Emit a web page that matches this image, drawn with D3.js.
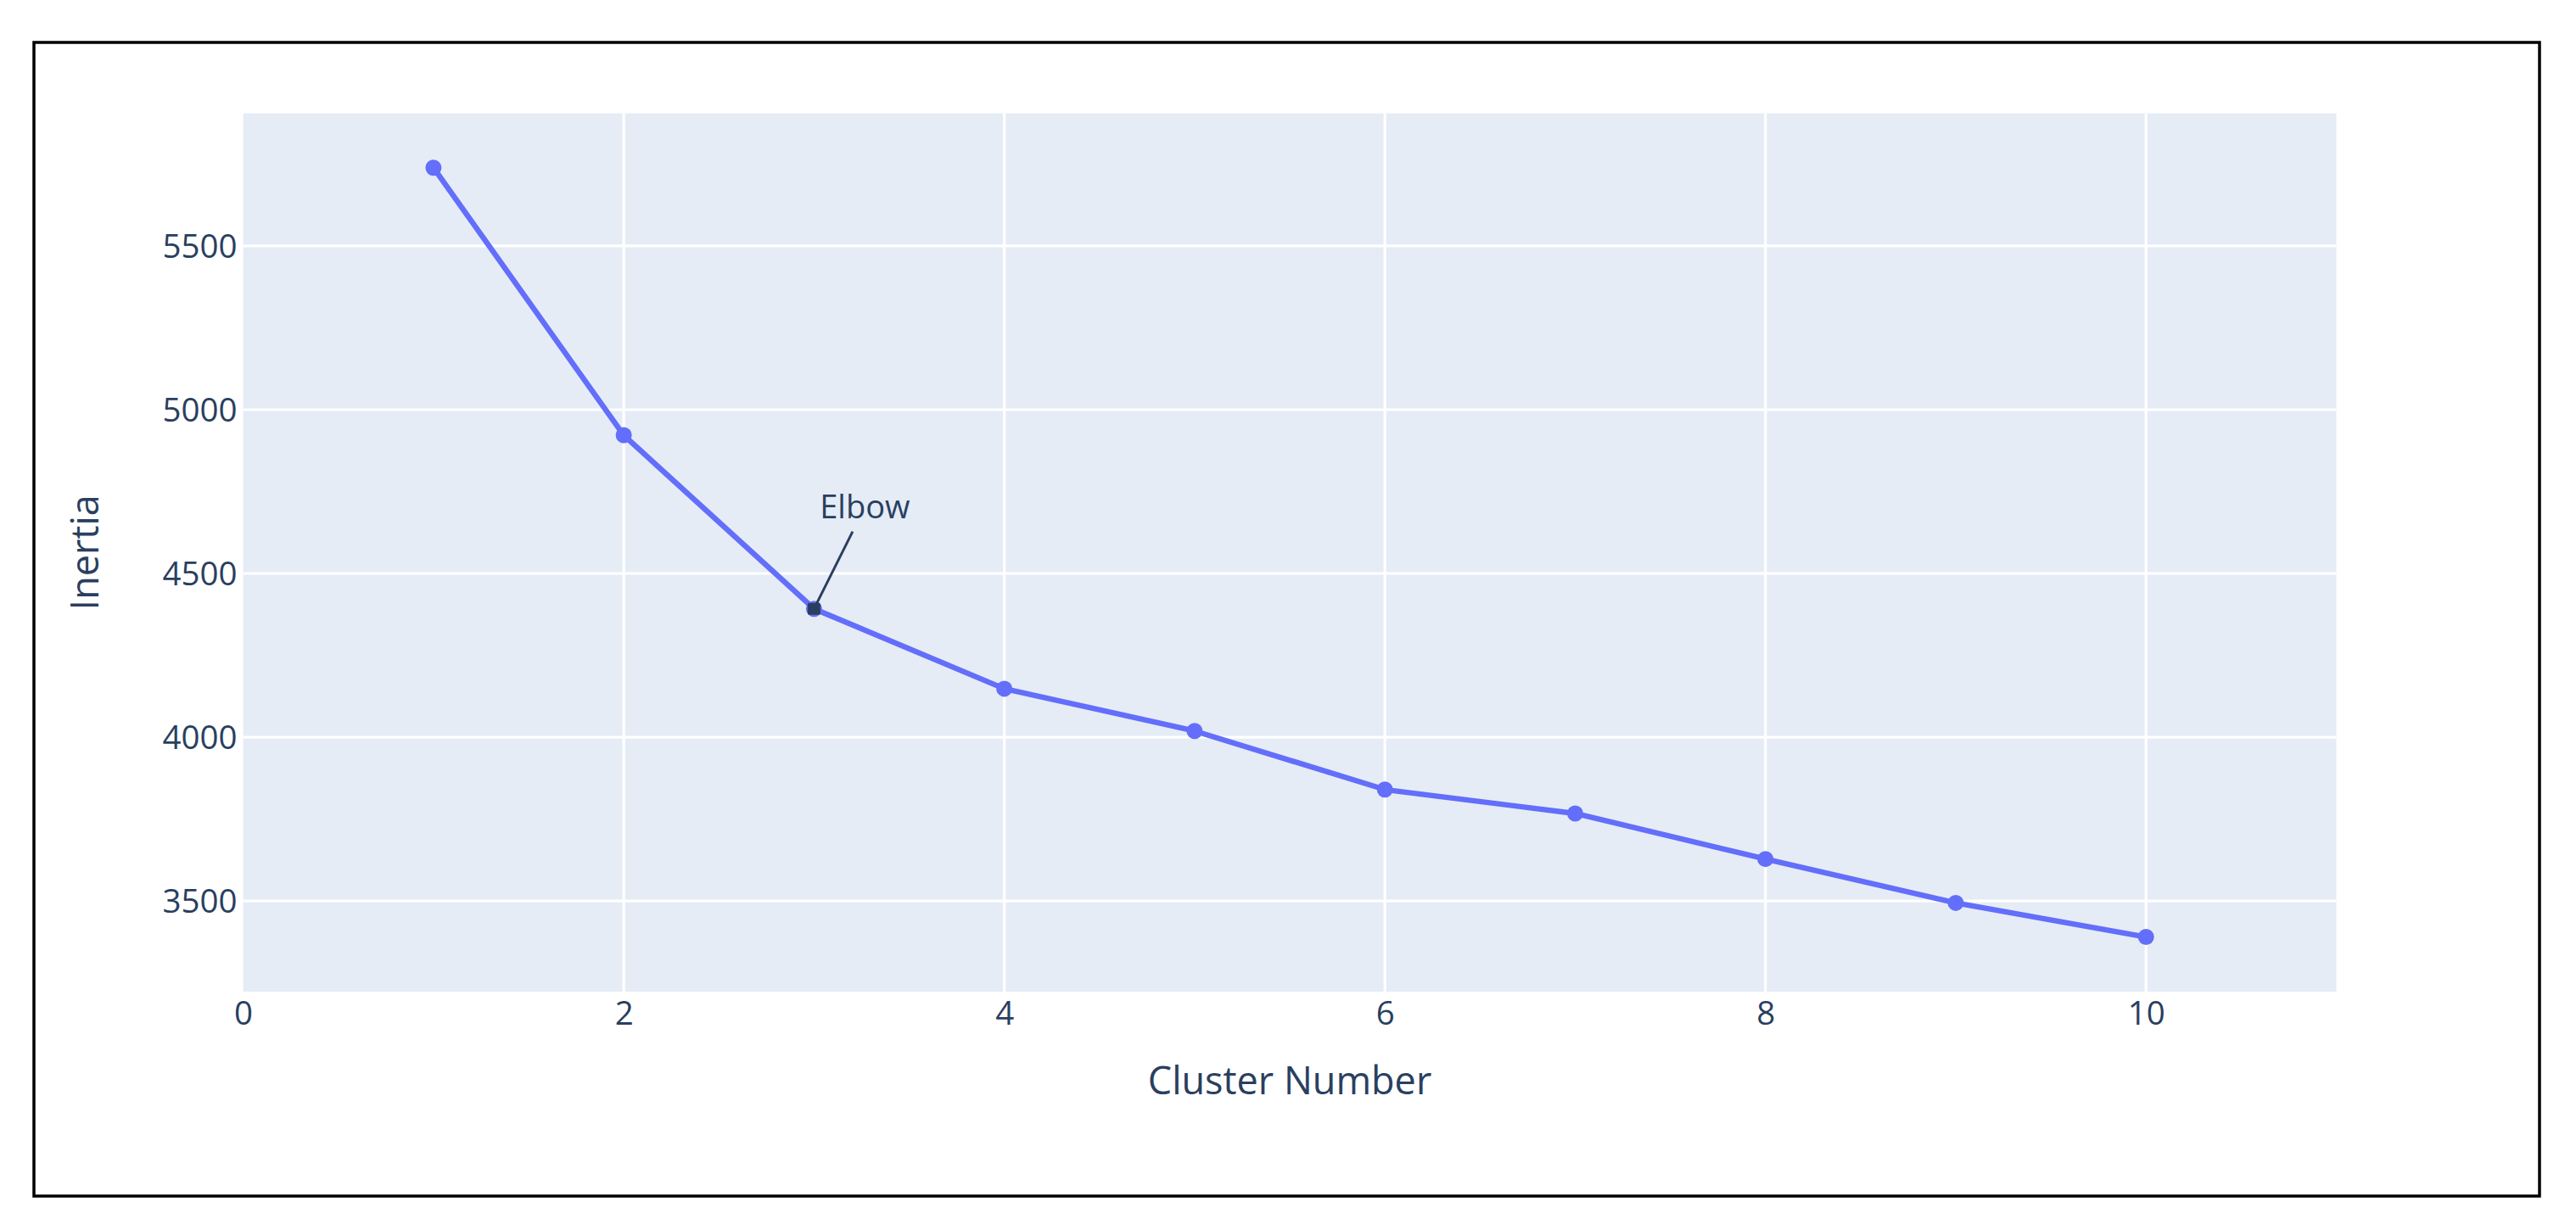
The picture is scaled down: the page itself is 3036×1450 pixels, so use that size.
<!DOCTYPE html>
<html>
<head>
<meta charset="utf-8">
<script src="https://cdn.jsdelivr.net/npm/d3@7"></script>
<style>
  html, body { margin: 0; padding: 0; background: #ffffff; }
  svg { display: block; }
  text { font-family: "Open Sans", Verdana, Arial, sans-serif; }
</style>
</head>
<body>
<svg id="chart" width="3036" height="1450"></svg>
<script>
// ---- data ----
const clusters = [1, 2, 3, 4, 5, 6, 7, 8, 9, 10];
const inertia = [5739, 4922, 4392, 4148, 4019, 3840, 3767, 3628, 3494, 3390];
const xTicks = [0, 2, 4, 6, 8, 10];
const yTicks = [3500, 4000, 4500, 5000, 5500];
const xTitle = "Cluster Number";
const yTitle = "Inertia";
const annoCluster = 3;
const annoText = "Elbow";

// ---- layout ----
const W = 3036, H = 1450;
const plot = { left: 286.6, right: 2753.5, top: 133.6, bottom: 1169 };
const textColor = "#2a3f5f";
const lineColor = "#636efa";

const svg = d3.select("#chart");
svg.append("rect").attr("x", 0).attr("y", 0).attr("width", W).attr("height", H).attr("fill", "#ffffff");

// frame border
svg.append("rect")
  .attr("x", 40).attr("y", 50)
  .attr("width", 2993 - 40).attr("height", 1410 - 50)
  .attr("fill", "none").attr("stroke", "#000").attr("stroke-width", 3.5);

const x = d3.scaleLinear().domain([0, 11]).range([plot.left, plot.right]);
const y = d3.scaleLinear().domain([3223, 5905]).range([plot.bottom, plot.top]);

// plot background
svg.append("rect")
  .attr("x", plot.left).attr("y", plot.top)
  .attr("width", plot.right - plot.left).attr("height", plot.bottom - plot.top)
  .attr("fill", "#e5ecf6");

// gridlines
const grid = svg.append("g");
grid.selectAll("line.gx").data(xTicks.filter(d => d !== 0)).join("line")
  .attr("x1", d => x(d)).attr("x2", d => x(d))
  .attr("y1", plot.top).attr("y2", plot.bottom)
  .attr("stroke", "#ffffff").attr("stroke-width", 3.2);
grid.selectAll("line.gy").data(yTicks).join("line")
  .attr("x1", plot.left).attr("x2", plot.right)
  .attr("y1", d => y(d)).attr("y2", d => y(d))
  .attr("stroke", "#ffffff").attr("stroke-width", 3.2);

// axes
const xAxis = svg.append("g")
  .attr("transform", `translate(0,${plot.bottom})`)
  .call(d3.axisBottom(x).tickValues(xTicks).tickSize(0).tickPadding(0).tickFormat(d3.format("d")));
xAxis.select(".domain").remove();
xAxis.selectAll("text")
  .attr("y", 39).attr("dy", null)
  .attr("font-size", 38.5).attr("fill", textColor)
  .attr("font-family", "'Open Sans', Verdana, Arial, sans-serif");

const yAxis = svg.append("g")
  .attr("transform", `translate(${plot.left},0)`)
  .call(d3.axisLeft(y).tickValues(yTicks).tickSize(0).tickPadding(0).tickFormat(d3.format("d")));
yAxis.select(".domain").remove();
yAxis.selectAll("text")
  .attr("x", -7).attr("dy", "0.36em")
  .attr("font-size", 38.5).attr("fill", textColor)
  .attr("font-family", "'Open Sans', Verdana, Arial, sans-serif");

// axis titles
svg.append("text")
  .attr("x", (plot.left + plot.right) / 2).attr("y", 1290)
  .attr("text-anchor", "middle").attr("font-size", 45).attr("fill", textColor)
  .text(xTitle);
svg.append("text")
  .attr("transform", `translate(116,${(plot.top + plot.bottom) / 2}) rotate(-90)`)
  .attr("text-anchor", "middle").attr("font-size", 45).attr("fill", textColor)
  .text(yTitle);

// series
const pts = clusters.map((c, i) => ({ c, v: inertia[i] }));
const line = d3.line().x(d => x(d.c)).y(d => y(d.v));
svg.append("path").datum(pts)
  .attr("d", line).attr("fill", "none")
  .attr("stroke", lineColor).attr("stroke-width", 6.4)
  .attr("stroke-linejoin", "round");
svg.append("g").selectAll("circle").data(pts).join("circle")
  .attr("cx", d => x(d.c)).attr("cy", d => y(d.v)).attr("r", 9.5)
  .attr("fill", lineColor);

// annotation
const ap = pts.find(d => d.c === annoCluster);
const px = x(ap.c), py = y(ap.v);
const ax = 60, ay = -120;
const tcx = px + ax, tcy = py + ay;
const boxHalfH = 29;
const t = (ay + boxHalfH) / ay; // fraction from point toward text where box bottom is
svg.append("line")
  .attr("x1", px).attr("y1", py)
  .attr("x2", px + ax * t).attr("y2", py + ay * t)
  .attr("stroke", textColor).attr("stroke-width", 3);
svg.append("rect")
  .attr("x", px - 7.5).attr("y", py - 7).attr("width", 15).attr("height", 14)
  .attr("rx", 2).attr("fill", textColor);
svg.append("text")
  .attr("x", tcx).attr("y", tcy + 13.5)
  .attr("text-anchor", "middle").attr("font-size", 38).attr("fill", textColor)
  .text(annoText);
</script>
</body>
</html>
